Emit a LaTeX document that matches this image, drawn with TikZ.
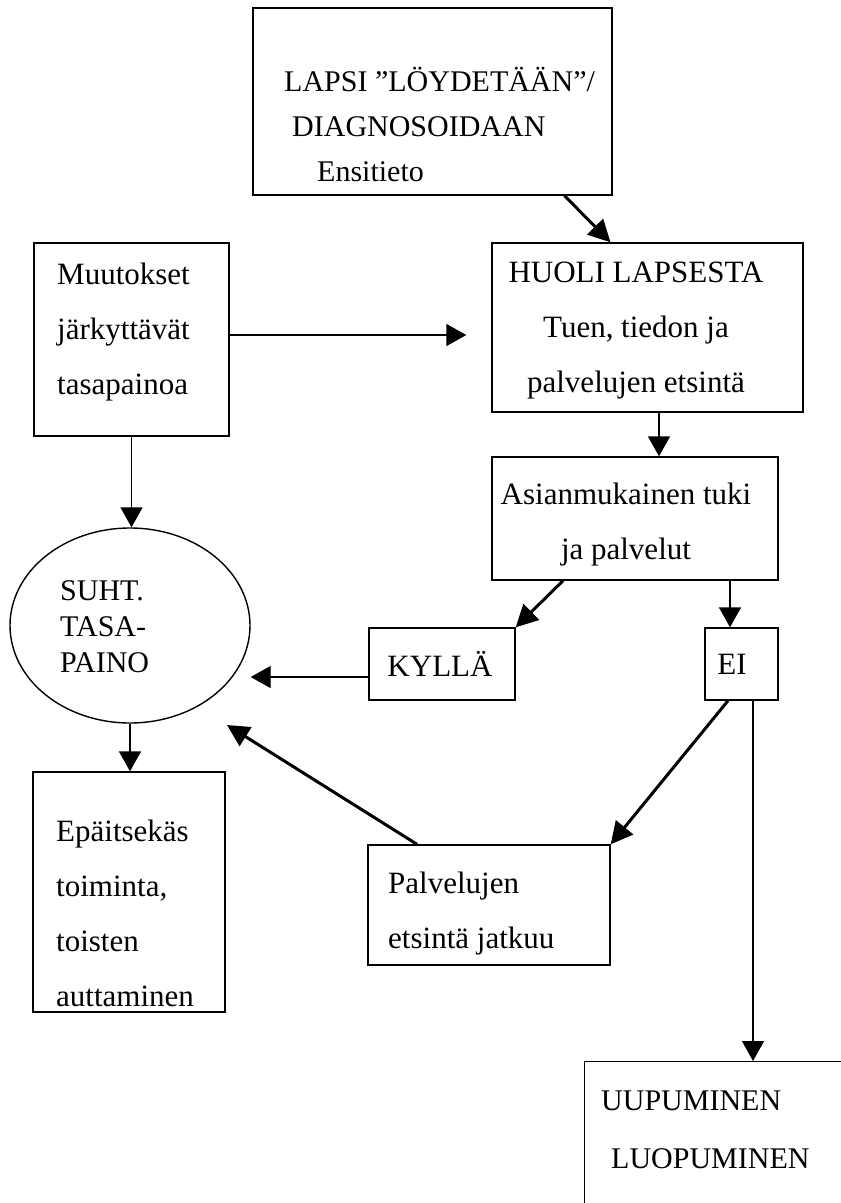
\documentclass[tikz,border=0pt]{standalone}
\usepackage{fontspec}
\setmainfont{Liberation Serif}
\usetikzlibrary{arrows.meta,shapes.geometric}
\begin{document}
\begin{tikzpicture}[x=1pt,y=-1pt,
  box/.style={draw, line width=1.4pt, rectangle, inner sep=0pt},
  txt/.style={inner sep=0pt, align=left, font=\fontsize{31pt}{55pt}\selectfont},
  arrthin/.style={line width=1.4pt, -{Triangle[length=20pt,width=22pt]}},
  arrthick/.style={line width=3pt, -{Triangle[length=22pt,width=22pt]}}]
\useasboundingbox (0,0) rectangle (841,1203);
\clip (0,0) rectangle (841,1203);
\fill[white] (0,0) rectangle (841,1203);

% boxes
\node[box, minimum width=359pt, minimum height=187pt] (top) at (432.5,101.5) {};
\node[txt, anchor=west, font=\fontsize{30pt}{45pt}\selectfont] (topt) at (284,124)
  {LAPSI ”LÖYDETÄÄN”/\\\hspace*{8pt}DIAGNOSOIDAAN\\\hspace*{33pt}Ensitieto};

\node[box, minimum width=311pt, minimum height=169pt] (huoli) at (647.5,327.5) {};
\node[txt, align=center] (huolit) at (636,331)
  {HUOLI LAPSESTA\\Tuen, tiedon ja\\palvelujen etsintä};

\node[box, minimum width=195pt, minimum height=193pt] (muut) at (131.5,339.5) {};
\node[txt, anchor=west] (muutt) at (57,332)
  {Muutokset\\järkyttävät\\tasapainoa};

\node[box, minimum width=286pt, minimum height=123pt] (asian) at (635,518.5) {};
\node[txt, align=center] (asiant) at (626,525)
  {Asianmukainen tuki\\ja palvelut};

\node[draw, ellipse, line width=1.4pt, inner sep=0pt, minimum width=240pt, minimum height=195pt] (ell) at (130,625.5) {};
\node[txt, anchor=west, font=\fontsize{30pt}{36pt}\selectfont] (ellt) at (60,627)
  {SUHT.\\TASA-\\PAINO};

\node[box, minimum width=146pt, minimum height=72pt] (kylla) at (442,664) {};
\node[txt] (kyllat) at (440,664) {KYLLÄ};

\node[box, minimum width=73pt, minimum height=72pt] (ei) at (741.5,664) {};
\node[txt] (eit) at (732,664) {EI};

\node[box, minimum width=192pt, minimum height=240pt] (epa) at (129,892) {};
\node[txt, anchor=west] (epat) at (56,913)
  {Epäitsekäs\\toiminta,\\toisten\\auttaminen};

\node[box, minimum width=242pt, minimum height=120pt] (palv) at (489,905) {};
\node[txt, anchor=west] (palvt) at (388,913.5)
  {Palvelujen\\etsintä jatkuu};

\node[box, anchor=north west, minimum width=330pt, minimum height=220pt] (uup) at (584,1061) {};
\node[txt, anchor=west, font=\fontsize{30pt}{58pt}\selectfont] (uupt) at (601,1130)
  {UUPUMINEN\\\hspace*{10pt}LUOPUMINEN};

% connectors
\draw[arrthick] ([xshift=132pt]top.south) -- ([xshift=-37pt]huoli.north);
\draw[arrthin, shorten >=25pt] ([yshift=4.5pt]muut.east) -- ([yshift=4.5pt]muut.east -| huoli.west);
\draw[arrthin] ([xshift=11.5pt]huoli.south) -- ([xshift=11.5pt]huoli.south |- asian.north);
\draw[arrthin] (muut.south) -- (muut.south |- ell.north);
\draw[arrthick] ([xshift=-72pt]asian.south) -- (kylla.north east);
\draw[arrthin] ([xshift=-11.5pt]ei.north |- asian.south) -- ([xshift=-11.5pt]ei.north);
\draw[arrthin] ([yshift=-13pt]kylla.west) -- ([yshift=-13pt]kylla.west -| ell.east);
\draw[arrthick] ([xshift=-13.5pt]ei.south) -- (palv.north east);
\coordinate (palvend) at (227,725);
\draw[arrthick] ([xshift=-72pt]palv.north) -- (palvend);
\draw[arrthin] (ell.south) -- (ell.south |- epa.north);
\draw[arrthin] ([xshift=11.5pt]ei.south) -- ([xshift=11.5pt]ei.south |- uup.north);
\end{tikzpicture}
\end{document}
